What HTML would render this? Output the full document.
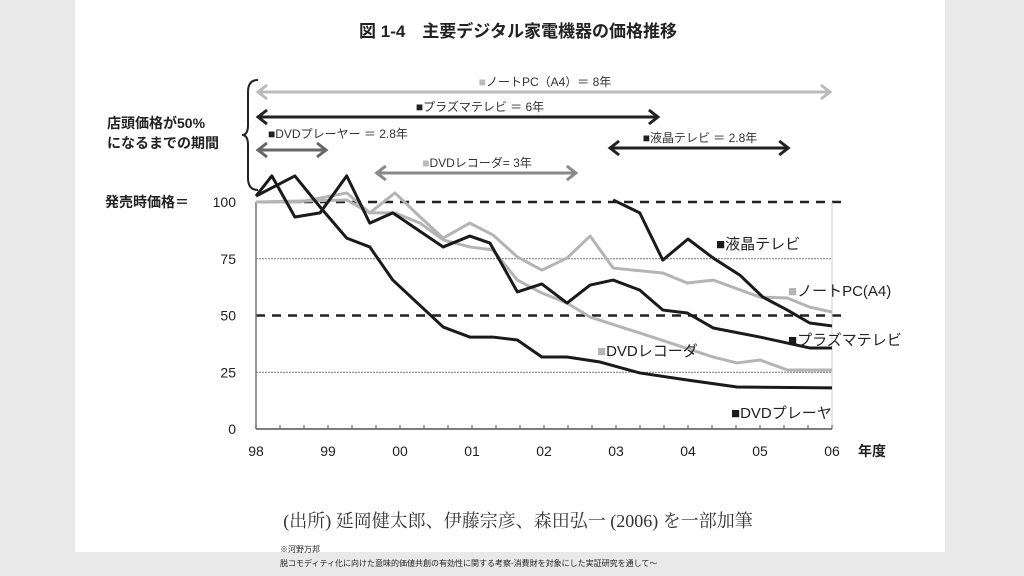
<!DOCTYPE html>
<html><head><meta charset="utf-8"><style>
body{margin:0;width:1024px;height:576px;background:#e9e9e9;overflow:hidden;font-family:"Liberation Sans","Noto Sans CJK JP",sans-serif;}
#page{position:absolute;left:75px;top:0;width:870px;height:552px;background:#fff;}
svg{position:absolute;left:0;top:0}
</style></head><body>
<div id="page"></div>
<svg id="chart" width="1024" height="576">
<text x="518" y="37" text-anchor="middle" font-size="17" font-weight="bold" fill="#222">図 1-4　主要デジタル家電機器の価格推移</text>
<text x="107" y="128" font-size="14" font-weight="bold" fill="#222">店頭価格が50%</text>
<text x="107" y="148" font-size="14" font-weight="bold" fill="#222">になるまでの期間</text>
<path d="M258,80 Q248,80 248,92 L248,125 Q248,135 242,135 Q248,135 248,145 L248,178 Q248,190 258,190" fill="none" stroke="#222" stroke-width="2"/>
<text x="105" y="207" font-size="14" font-weight="bold" fill="#222">発売時価格＝</text>
<g id="arrows"></g>
<g id="grid"></g>
<g id="lines"></g>
<g id="legend"></g>
<text x="518" y="527" text-anchor="middle" font-size="18" fill="#333" font-family="'Liberation Serif','Noto Serif CJK SC',serif">(出所) 延岡健太郎、伊藤宗彦、森田弘一 (2006) を一部加筆</text>
<text x="280" y="552" font-size="8" fill="#222">※河野万邦</text>
<text x="280" y="566" font-size="8" fill="#222">脱コモディティ化に向けた意味的価値共創の有効性に関する考察-消費財を対象にした実証研究を通して～</text>
</svg>
<script>
const yearLabels=["98","99","00","01","02","03","04","05","06"];
const yTicks=[0,25,50,75,100];
// t = years since FY98, v = index (launch = 100)
const plasmaT=[0,.22,.54,.89,1.26,1.58,1.9,2.6,2.97,3.25,3.63,3.97,4.32,4.64,4.96,5.33,5.65,5.99,6.35,7.0,7.69,8.0];
const plasmaV=[102.6,111.5,93.4,95.2,111.5,90.7,95.2,80.2,85,81.9,60.4,63.9,55.5,63.4,65.6,61.2,52.4,51.1,44.5,40.5,35.7,35.7];
const playerT=[0,.54,.89,1.26,1.58,1.9,2.6,2.97,3.29,3.63,3.97,4.32,4.78,5.33,5.99,6.68,8.0];
const playerV=[102.6,111.5,97.8,84.1,80.2,65.6,44.9,40.5,40.5,39.2,31.7,31.7,29.5,24.7,21.6,18.5,18.1];
const noteT=[0,.61,1.26,1.58,1.93,2.28,2.6,2.97,3.29,3.63,3.97,4.32,4.64,4.96,5.65,5.99,6.35,7.0,7.38,7.69,8.0];
const noteV=[100,100,104,95.2,104,93.4,84.1,90.7,85.5,75.8,70,75.3,85,70.9,68.7,64.3,65.6,58.1,57.7,53.7,51.5];
const recT=[0,1.26,1.58,1.93,2.28,2.6,2.97,3.29,3.63,3.97,4.32,4.64,5.33,6.35,6.68,7.0,7.38,8.0];
const recV=[100,100.9,95.2,95.2,90.7,83.3,80.2,78.9,65.6,59.9,55.5,49.3,42.3,31.7,29.1,30.4,26,26];
const lcdT=[4.96,5.33,5.65,6.0,6.35,6.72,7.04,7.38,7.69,8.0];
const lcdV=[100.9,95.2,74.4,83.7,75.3,67.8,58.1,52.4,46.7,45.4];
const arrowStart=[0,0,0,4.89,1.65];
const arrowEnd=[8,5.61,1.0,7.42,4.47];

const NS="http://www.w3.org/2000/svg";
const X=t=>256+t*72, Y=v=>429-v*2.27;
function mk(tag,attrs,parent){const e=document.createElementNS(NS,tag);for(const k in attrs)e.setAttribute(k,attrs[k]);parent.appendChild(e);return e;}
const grid=document.getElementById('grid');
yTicks.forEach(v=>{
  let l;
  if(v===100||v===50){l=mk('line',{x1:256,x2:842,y1:Y(v),y2:Y(v),stroke:'#222','stroke-width':2.5,'stroke-dasharray':'9,7'},grid);}
  else if(v>0){l=mk('line',{x1:256,x2:832,y1:Y(v),y2:Y(v),stroke:'#777','stroke-width':1,'stroke-dasharray':'2,1'},grid);}
  else{l=mk('line',{x1:256,x2:832,y1:Y(0),y2:Y(0),stroke:'#555','stroke-width':1.5},grid);}
  
  
  const t=mk('text',{x:236,y:Y(v)+5,'text-anchor':'end','font-size':14,fill:'#222'},grid);t.textContent=v;
  
  
});
let ax=mk('line',{x1:256,x2:256,y1:Y(100),y2:Y(0),stroke:'#777','stroke-width':1.5},grid);


let rx=mk('line',{x1:832,x2:832,y1:Y(100),y2:Y(0),stroke:'#ccc','stroke-width':1},grid);


for(let i=0;i<=24;i++){const tk=mk('line',{x1:X(i/3),x2:X(i/3),y1:Y(0),y2:Y(0)-4,stroke:'#555'},grid);
  
  }
yearLabels.forEach((s,i)=>{const t=mk('text',{x:X(i),y:456,'text-anchor':'middle','font-size':14,fill:'#222'},grid);t.textContent=s;
  
  });
let yt=mk('text',{x:858,y:456,'font-size':14,'font-weight':'bold',fill:'#222'},grid);yt.textContent='年度';



const lines=document.getElementById('lines');
const series=[["note-pc",noteT,noteV,"#b4b4b4"],["dvd-recorder",recT,recV,"#b4b4b4"],["plasma-tv",plasmaT,plasmaV,"#1a1a1a"],["dvd-player",playerT,playerV,"#1a1a1a"],["lcd-tv",lcdT,lcdV,"#1a1a1a"]];
series.forEach(([n,T,V,c])=>{
  const p=mk('polyline',{points:T.map((t,i)=>X(t)+','+Y(V[i])).join(' '),fill:'none',stroke:c,'stroke-width':3,'stroke-linejoin':'round'},lines);
  
  
});

const lg=document.getElementById('legend');
[["■液晶テレビ",716,249,"#1a1a1a","legend-lcd-tv"],["■ノートPC(A4)",788,296,"#b4b4b4","legend-note-pc"],["■プラズマテレビ",788,345,"#1a1a1a","legend-plasma-tv"],["■DVDレコーダ",597,356,"#b4b4b4","legend-dvd-recorder"],["■DVDプレーヤ",731,418,"#1a1a1a","legend-dvd-player"]].forEach(([s,x,y,c,n])=>{
  const t=mk('text',{x:x,y:y,'font-size':15,fill:'#222'},lg);
  t.innerHTML='<tspan fill="'+c+'">■</tspan>'+s.slice(1);
  
  
});

const ar=document.getElementById('arrows');
[["ノートPC（A4）＝ 8年",92,"#bbb","#bbb",545,86],["プラズマテレビ ＝ 6年",117,"#222","#222",480,111],["DVDプレーヤー ＝ 2.8年",150,"#666","#222",268,138],["液晶テレビ ＝ 2.8年",148,"#222","#222",700,142],["DVDレコーダ= 3年",173,"#888","#bbb",477,167]].forEach(([s,y,c,sq,tx,ty],i)=>{
  const x1=X(arrowStart[i])+2,x2=X(arrowEnd[i])-2;
  const g=mk('g',{},ar);
  
  
  mk('line',{x1:x1,x2:x2,y1:y,y2:y,stroke:c,'stroke-width':3},g);
  mk('polyline',{points:(x1+9)+','+(y-7)+' '+x1+','+y+' '+(x1+9)+','+(y+7),fill:'none',stroke:c,'stroke-width':3},g);
  mk('polyline',{points:(x2-9)+','+(y-7)+' '+x2+','+y+' '+(x2-9)+','+(y+7),fill:'none',stroke:c,'stroke-width':3},g);
  const tt=mk('text',{x:tx,y:ty,'font-size':12,fill:'#333','text-anchor':i===2?'start':'middle'},g);
  tt.innerHTML='<tspan fill="'+sq+'">■</tspan>'+s;
});
</script>
</body></html>
